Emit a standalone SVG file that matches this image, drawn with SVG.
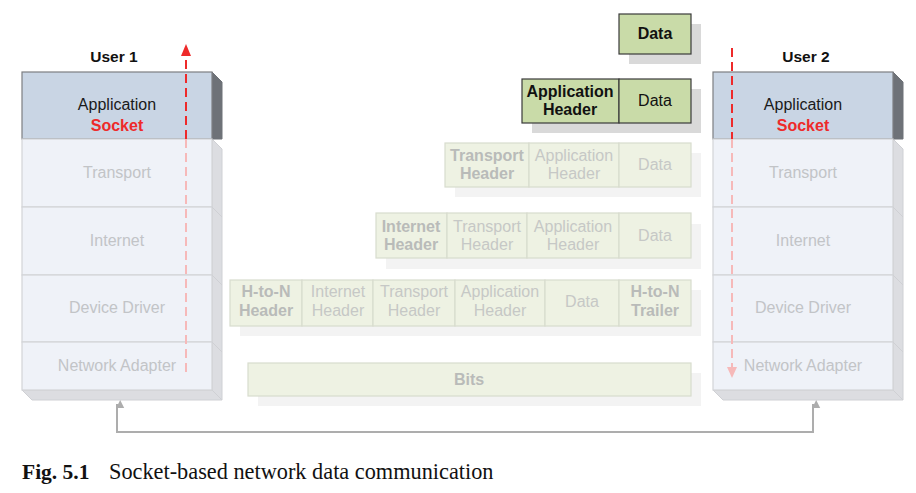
<svg xmlns="http://www.w3.org/2000/svg" width="916" height="493" viewBox="0 0 916 493">
<defs>
<style>
.t{font-family:"Liberation Sans",Arial,sans-serif;font-size:16px;text-anchor:middle}
.u{font-size:15.5px}
.b{font-weight:bold}
.app{fill:#c9d5e4;stroke:#7d7f82;stroke-width:1.2}
.appside{fill:#6e7278;stroke:#6e7278}
.lay{fill:#eff2f8;stroke:#d2d4d8;stroke-width:1.2}
.layside{fill:#dcdde1;stroke:#cfd0d4}
.lt{fill:#c2c4c7}
.pk{fill:#c9dba8;stroke:#3a3a3a;stroke-width:1.2}
.pkf{fill:#eef2e3;stroke:#d8dcce;stroke-width:1.2}
.sh{fill:#d9d9d9}
.shf{fill:#f3f3f3}
.pt{fill:#111}
.ptf{fill:#c6c8c6}
.ptb{fill:#b9bbb9}
.red{stroke:#ee2a2a;stroke-width:2;stroke-dasharray:9 5;fill:none}
.pink{stroke:#f6b9b9;stroke-width:2;stroke-dasharray:9 5;fill:none}
.conn{stroke:#adadad;stroke-width:2;fill:none}
</style>
<marker id="ga" viewBox="0 0 10 10" refX="5" refY="1" markerWidth="8" markerHeight="9" markerUnits="userSpaceOnUse" orient="auto-start-reverse">
<path d="M0,0 L10,5 L0,10 z" fill="#adadad"/>
</marker>
</defs>
<rect width="916" height="493" fill="#fff"/>

<g id="user1">
<text class="t u b" x="114" y="62" fill="#111">User 1</text>
<polygon class="layside" points="212,139 222,149 222,400 212,390"/>
<polygon class="layside" points="22,390 212,390 222,400 32,400"/>
<polygon class="appside" points="212,72 222,82 222,139 212,139"/>
<rect class="app" x="22" y="72" width="190" height="67"/>
<rect class="lay" x="22" y="139" width="190" height="68"/>
<rect class="lay" x="22" y="207" width="190" height="68"/>
<rect class="lay" x="22" y="275" width="190" height="67"/>
<rect class="lay" x="22" y="342" width="190" height="48"/>
<line x1="212" y1="207" x2="222" y2="217" stroke="#cfd0d4"/>
<line x1="212" y1="275" x2="222" y2="285" stroke="#cfd0d4"/>
<line x1="212" y1="342" x2="222" y2="352" stroke="#cfd0d4"/>
<text class="t" x="117" y="110" fill="#1a1a1a">Application</text>
<text class="t b" x="117" y="131" fill="#ee2a2a">Socket</text>
<text class="t lt" x="117" y="178">Transport</text>
<text class="t lt" x="117" y="246">Internet</text>
<text class="t lt" x="117" y="313">Device Driver</text>
<text class="t lt" x="117" y="371">Network Adapter</text>
</g>

<g id="user2">
<text class="t u b" x="806" y="62" fill="#111">User 2</text>
<polygon class="layside" points="893,139 903,149 903,400 893,390"/>
<polygon class="layside" points="713,390 893,390 903,400 723,400"/>
<polygon class="appside" points="893,72 903,82 903,139 893,139"/>
<rect class="app" x="713" y="72" width="180" height="67"/>
<rect class="lay" x="713" y="139" width="180" height="68"/>
<rect class="lay" x="713" y="207" width="180" height="68"/>
<rect class="lay" x="713" y="275" width="180" height="67"/>
<rect class="lay" x="713" y="342" width="180" height="48"/>
<line x1="893" y1="207" x2="903" y2="217" stroke="#cfd0d4"/>
<line x1="893" y1="275" x2="903" y2="285" stroke="#cfd0d4"/>
<line x1="893" y1="342" x2="903" y2="352" stroke="#cfd0d4"/>
<text class="t" x="803" y="110" fill="#1a1a1a">Application</text>
<text class="t b" x="803" y="131" fill="#ee2a2a">Socket</text>
<text class="t lt" x="803" y="178">Transport</text>
<text class="t lt" x="803" y="246">Internet</text>
<text class="t lt" x="803" y="313">Device Driver</text>
<text class="t lt" x="803" y="371">Network Adapter</text>
</g>

<g id="pkt-data">
<rect class="sh" x="629" y="24" width="72" height="40"/>
<rect class="pk" x="619" y="14" width="72" height="40"/>
<text class="t b pt" x="655" y="39">Data</text>
</g>

<g id="pkt-app">
<rect class="sh" x="532" y="89" width="169" height="44"/>
<rect class="pk" x="522" y="79" width="97" height="44"/>
<rect class="pk" x="619" y="79" width="72" height="44"/>
<text class="t b pt" x="570" y="97">Application</text>
<text class="t b pt" x="570" y="115">Header</text>
<text class="t pt" x="655" y="106">Data</text>
</g>

<g id="pkt-transport">
<rect class="shf" x="455" y="153" width="246" height="44"/>
<rect class="pkf" x="445" y="143" width="84" height="44"/>
<rect class="pkf" x="529" y="143" width="90" height="44"/>
<rect class="pkf" x="619" y="143" width="72" height="44"/>
<text class="t b ptb" x="487" y="161">Transport</text>
<text class="t b ptb" x="487" y="179">Header</text>
<text class="t ptf" x="574" y="161">Application</text>
<text class="t ptf" x="574" y="179">Header</text>
<text class="t ptf" x="655" y="170">Data</text>
</g>

<g id="pkt-internet">
<rect class="shf" x="386" y="224" width="315" height="45"/>
<rect class="pkf" x="376" y="213" width="71" height="45"/>
<rect class="pkf" x="447" y="213" width="80" height="45"/>
<rect class="pkf" x="527" y="213" width="92" height="45"/>
<rect class="pkf" x="619" y="213" width="72" height="45"/>
<text class="t b ptb" x="411" y="232">Internet</text>
<text class="t b ptb" x="411" y="250">Header</text>
<text class="t ptf" x="487" y="232">Transport</text>
<text class="t ptf" x="487" y="250">Header</text>
<text class="t ptf" x="573" y="232">Application</text>
<text class="t ptf" x="573" y="250">Header</text>
<text class="t ptf" x="655" y="241">Data</text>
</g>

<g id="pkt-hton">
<rect class="shf" x="240" y="290" width="461" height="46"/>
<rect class="pkf" x="230" y="280" width="72" height="46"/>
<rect class="pkf" x="302" y="280" width="71" height="46"/>
<rect class="pkf" x="373" y="280" width="82" height="46"/>
<rect class="pkf" x="455" y="280" width="90" height="46"/>
<rect class="pkf" x="545" y="280" width="74" height="46"/>
<rect class="pkf" x="619" y="280" width="72" height="46"/>
<text class="t b ptb" x="266" y="297">H-to-N</text>
<text class="t b ptb" x="266" y="316">Header</text>
<text class="t ptf" x="338" y="297">Internet</text>
<text class="t ptf" x="338" y="316">Header</text>
<text class="t ptf" x="414" y="297">Transport</text>
<text class="t ptf" x="414" y="316">Header</text>
<text class="t ptf" x="500" y="297">Application</text>
<text class="t ptf" x="500" y="316">Header</text>
<text class="t ptf" x="582" y="307">Data</text>
<text class="t b ptb" x="655" y="297">H-to-N</text>
<text class="t b ptb" x="655" y="316">Trailer</text>
</g>

<g id="pkt-bits">
<rect class="shf" x="258" y="373" width="443" height="33"/>
<rect class="pkf" x="248" y="363" width="443" height="33"/>
<text class="t b ptb" x="469" y="385">Bits</text>
</g>

<g id="connectors">
<path class="conn" d="M117,404 V432 H813 V404" marker-start="url(#ga)" marker-end="url(#ga)"/>
<line class="pink" x1="186" y1="372" x2="186" y2="139"/>
<line class="red" x1="186" y1="139" x2="186" y2="54"/>
<polygon points="181,56 191,56 186,44" fill="#ee2a2a"/>
<line class="red" x1="732" y1="48" x2="732" y2="139"/>
<line class="pink" x1="732" y1="139" x2="732" y2="368"/>
<polygon points="727,367 737,367 732,378" fill="#f6b9b9"/>
</g>

<g id="caption">
<text x="22" y="479" font-family="'Liberation Serif','Times New Roman',serif" font-size="21.5" font-weight="bold" fill="#111">Fig. 5.1</text>
<text x="109" y="479" font-family="'Liberation Serif','Times New Roman',serif" font-size="22.3" fill="#111">Socket-based network data communication</text>
</g>
</svg>
